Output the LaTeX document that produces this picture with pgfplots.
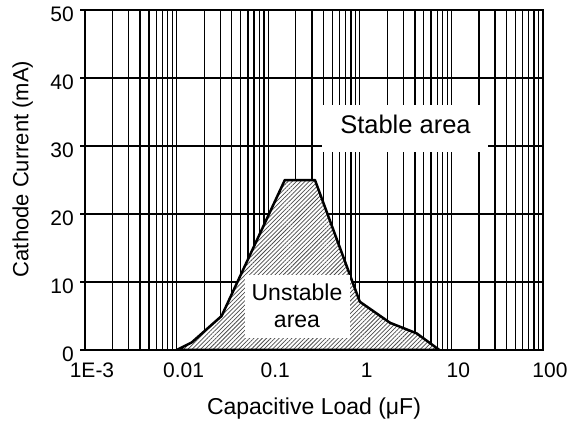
\documentclass[border=0pt]{standalone}
\usepackage{fontspec}
\setmainfont{Liberation Sans}
\usepackage{pgfplots}
\pgfplotsset{compat=1.18}
\usetikzlibrary{patterns.meta}

\begin{document}
\begin{tikzpicture}
\path[use as bounding box] (-85bp,-73bp) rectangle (487bp,350bp);
\begin{axis}[
  at={(0,0)}, anchor=south west,
  scale only axis, width=458bp, height=340bp,
  xmode=log, xmin=1e-3, xmax=100, ymin=0, ymax=50,
  xtick={0.001,0.01,0.1,1,10,100},
  xticklabels={1E-3,0.01,0.1,1,10,100},
  minor xtick={0.002,0.003,0.004,0.005,0.006,0.007,0.008,0.009,
               0.02,0.03,0.04,0.05,0.06,0.07,0.08,0.09,
               0.2,0.3,0.4,0.5,0.6,0.7,0.8,0.9,
               2,3,4,5,6,7,8,9,
               20,30,40,50,60,70,80,90},
  ytick={0,10,20,30,40,50},
  yticklabels={0,10,20,30,40,50},
  ytick pos=left,
  xmajorgrids=true, xminorgrids=true, ymajorgrids=true,
  major grid style={black, line width=1.3bp},
  minor grid style={black, line width=1.3bp},
  axis line style={black, line width=1.7bp},
  major tick length=0pt, minor tick length=0pt,
  xticklabel style={font=\fontsize{21bp}{25bp}\selectfont, anchor=base, inner sep=0pt, yshift=-27bp, xshift=7bp},
  yticklabel style={font=\fontsize{21bp}{25bp}\selectfont, anchor=east, inner sep=0pt, xshift=-11bp, yshift=-4bp},
  extra y ticks={0,10,20,30,40,50},
  extra y tick labels={},
  extra y tick style={grid=none, major tick length=5bp, tick align=outside, ytick pos=left, tick style={draw=black, line width=1.3bp}},
]
\addplot[draw=none, fill=white,
  postaction={pattern={Lines[angle=45,distance=3pt,line width=0.75pt]}, pattern color=black!70}]
  coordinates {(0.01,0) (0.0146,1.1) (0.031,5) (0.152,25) (0.324,25) (1.0,7.1) (2.14,4.0) (4.17,2.45) (7.4,0)} -- cycle;
\addplot[draw=black, line width=2.5bp, line join=round]
  coordinates {(0.01,0) (0.0146,1.1) (0.031,5) (0.152,25) (0.324,25) (1.0,7.1) (2.14,4.0) (4.17,2.45) (7.4,0)} -- cycle;
\fill[white] (axis cs:0.3866,29.12) rectangle (axis cs:25.1,36.03);
\node[anchor=base, font=\fontsize{25.5bp}{30bp}\selectfont, inner sep=0pt] at (axis cs:3.155,31.9) {Stable area};
\fill[white] (axis cs:0.05581,1.76) rectangle (axis cs:0.7816,11.03);
\node[anchor=base, font=\fontsize{23bp}{28bp}\selectfont, inner sep=0pt] at (axis cs:0.2063,7.35) {Unstable};
\node[anchor=base, font=\fontsize{23bp}{28bp}\selectfont, inner sep=0pt] at (axis cs:0.2063,3.24) {area};
\end{axis}
\node[anchor=base, inner sep=0pt, font=\fontsize{23bp}{27bp}\selectfont] at (229bp,-64bp) {Capacitive Load (μF)};
\node[rotate=90, anchor=base, inner sep=0pt, font=\fontsize{22bp}{27bp}\selectfont] at (-56.7bp,181bp) {Cathode Current (mA)};
\end{tikzpicture}
\end{document}
